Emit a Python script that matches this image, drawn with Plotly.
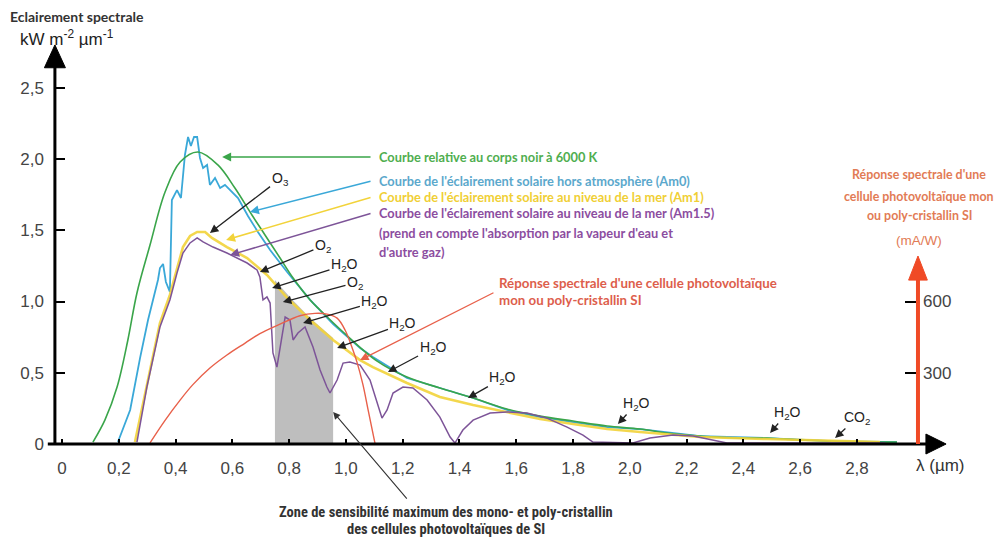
import plotly.graph_objects as go

# ---------------- data ----------------
# Black body 6000 K (kW m-2 um-1)
bb_x = [0.109, 0.151, 0.194, 0.232, 0.264, 0.310, 0.363, 0.416, 0.479, 0.549, 0.609, 0.669, 0.715,
        0.768, 0.814, 0.874, 0.909, 0.990, 1.110, 1.215, 1.331, 1.448, 1.567, 1.684, 1.800, 1.920,
        2.036, 2.131, 2.247, 2.364, 2.483, 2.600, 2.716, 2.835, 2.941]
bb_y = [0.014, 0.168, 0.400, 0.730, 1.060, 1.396, 1.768, 1.979, 2.049, 1.958, 1.796, 1.607, 1.467,
        1.305, 1.165, 1.011, 0.940, 0.786, 0.582, 0.470, 0.393, 0.323, 0.246, 0.196, 0.161, 0.126,
        0.105, 0.077, 0.056, 0.042, 0.042, 0.028, 0.021, 0.014, 0.014]

# AM0 (outside atmosphere)
am0_x = [0.197, 0.240, 0.275, 0.303, 0.324, 0.338, 0.345, 0.356, 0.366, 0.380, 0.387, 0.405, 0.419,
         0.433, 0.444, 0.454, 0.465, 0.476, 0.486, 0.497, 0.511, 0.521, 0.539, 0.557, 0.574, 0.599,
         0.620, 0.655, 0.690, 0.733, 0.793, 0.874, 0.955, 1.050, 1.095, 1.215, 1.331, 1.448, 1.567,
         1.684, 1.800, 1.920, 2.036, 2.247, 2.483, 2.716, 2.941]
am0_y = [0.014, 0.239, 0.604, 0.870, 1.039, 1.151, 1.235, 1.263, 1.137, 1.067, 1.712, 1.782, 1.726,
         2.028, 2.154, 2.091, 2.154, 2.154, 2.007, 1.937, 1.958, 1.818, 1.867, 1.796, 1.818, 1.768,
         1.726, 1.600, 1.488, 1.361, 1.207, 1.011, 0.842, 0.674, 0.611, 0.463, 0.393, 0.323, 0.239,
         0.189, 0.154, 0.119, 0.105, 0.056, 0.042, 0.021, 0.014]

# AM1 (sea level)
am1_x = [0.257, 0.299, 0.345, 0.380, 0.405, 0.426, 0.451, 0.476, 0.504, 0.528, 0.581, 0.652, 0.722,
         0.793, 0.874, 0.955, 1.050, 1.095, 1.215, 1.331, 1.448, 1.567, 1.684, 1.800, 1.920, 2.036,
         2.247, 2.483, 2.716, 2.881]
am1_y = [0.014, 0.414, 0.849, 1.046, 1.235, 1.382, 1.460, 1.488, 1.488, 1.446, 1.382, 1.305, 1.186,
         1.025, 0.870, 0.730, 0.589, 0.540, 0.428, 0.330, 0.274, 0.225, 0.175, 0.140, 0.105, 0.084,
         0.049, 0.035, 0.021, 0.014]

# AM1.5 (sea level, with absorption)
am15_x = [0.264, 0.299, 0.345, 0.380, 0.405, 0.426, 0.451, 0.476, 0.497, 0.532, 0.581, 0.652, 0.687,
          0.697, 0.708, 0.722, 0.733, 0.743, 0.757, 0.768, 0.786, 0.803, 0.814, 0.831, 0.856, 0.884,
          0.909, 0.933, 0.944, 0.969, 0.990, 1.014, 1.050, 1.085, 1.110, 1.127, 1.145, 1.166, 1.201,
          1.236, 1.286, 1.331, 1.367, 1.384, 1.412, 1.448, 1.508, 1.567, 1.638, 1.708, 1.779, 1.835,
          1.870, 2.011, 2.071, 2.152, 2.223, 2.293, 2.342, 2.900]
am15_y = [0.014, 0.400, 0.821, 1.011, 1.200, 1.340, 1.411, 1.446, 1.418, 1.382, 1.340, 1.270, 1.221,
          1.172, 1.011, 1.032, 0.989, 0.639, 0.540, 0.681, 0.891, 0.870, 0.730, 0.779, 0.821, 0.681,
          0.519, 0.400, 0.358, 0.449, 0.568, 0.575, 0.554, 0.449, 0.288, 0.182, 0.239, 0.358, 0.400,
          0.393, 0.309, 0.189, 0.049, 0.007, 0.098, 0.168, 0.218, 0.225, 0.218, 0.182, 0.119, 0.063,
          0.014, 0.007, 0.042, 0.063, 0.056, 0.028, 0.007, 0.007]

# Spectral response of a mono/poly-crystalline Si cell (mA/W)
pv_x = [0.310, 0.363, 0.416, 0.461, 0.521, 0.581, 0.645, 0.697, 0.768, 0.838, 0.891, 0.933, 0.969,
        0.997, 1.025, 1.039, 1.060, 1.078, 1.103]
pv_y = [5, 100, 185, 250, 320, 375, 425, 465, 505, 540, 550, 547, 530, 480, 395, 345, 250, 145, 0]

# Zone of maximum sensitivity (grey band)
zone_x = [0.750, 0.750, 0.803, 0.874, 0.955, 0.955]
zone_y = [0.0, 1.150, 1.030, 0.884, 0.744, 0.0]

x_ticks = [0, 0.2, 0.4, 0.6, 0.8, 1.0, 1.2, 1.4, 1.6, 1.8, 2.0, 2.2, 2.4, 2.6, 2.8]
x_ticktext = ["0", "0,2", "0,4", "0,6", "0,8", "1,0", "1,2", "1,4", "1,6", "1,8", "2,0", "2,2",
              "2,4", "2,6", "2,8"]
y_ticks = [0, 0.5, 1.0, 1.5, 2.0, 2.5]
y_ticktext = ["0", "0,5", "1,0", "1,5", "2,0", "2,5"]
y2_ticks = [300, 600]
y2_ticktext = ["300", "600"]

# ---------------- styling ----------------
GREEN = "#3aa54a"
BLUE = "#3aa8d8"
YELLOW = "#f2d33a"
PURPLE = "#7d5498"
RED = "#e8604a"
RED_AXIS = "#f04a26"
TXT_GREEN = "#4fae4f"
TXT_BLUE = "#5ba8cc"
TXT_YELLOW = "#f0cf35"
TXT_PURPLE = "#8c4d9f"
TXT_RED = "#dd5e4c"
TXT_ORANGE = "#e27b55"
LEG_FONT = "Lato, 'Open Sans', sans-serif"
ARIAL = "Liberation Sans, Arial, sans-serif"
TICK_FONT = dict(family=ARIAL, size=17, color="#444")

X0, X1 = -0.0775, 3.163
Y0, Y1 = -0.533, 2.975
K = 600.0          # mA/W per kW m-2 um-1 on the figure
YAX = -0.025       # position of the vertical axis line

fig = go.Figure()

fig.add_trace(go.Scatter(x=zone_x, y=zone_y, fill="toself", fillcolor="#bebebe",
                         line=dict(width=0), mode="lines", hoverinfo="skip", showlegend=False))
fig.add_trace(go.Scatter(x=am0_x, y=am0_y, mode="lines", line=dict(color=BLUE, width=1.8),
                         showlegend=False))
fig.add_trace(go.Scatter(x=bb_x, y=bb_y, mode="lines", line=dict(color=GREEN, width=1.6, shape="spline"),
                         showlegend=False))
fig.add_trace(go.Scatter(x=am1_x, y=am1_y, mode="lines",
                         line=dict(color="rgba(242,211,58,0.9)", width=2.6), showlegend=False))
fig.add_trace(go.Scatter(x=am15_x, y=am15_y, mode="lines", line=dict(color=PURPLE, width=1.5),
                         showlegend=False))
fig.add_trace(go.Scatter(x=pv_x, y=pv_y, mode="lines", yaxis="y2",
                         line=dict(color=RED, width=1.4, shape="spline"), showlegend=False))

# ---------------- axes drawn as arrows ----------------
shapes = [
    dict(type="line", xref="x", yref="y", x0=-0.05, x1=3.06, y0=0, y1=0,
         line=dict(color="black", width=3)),
    dict(type="path", xref="x", yref="y", path="M 3.043,0.07 L 3.114,0 L 3.043,-0.07 Z",
         fillcolor="black", line=dict(color="black", width=1)),
    dict(type="line", xref="x", yref="y", x0=YAX, x1=YAX, y0=0, y1=2.66,
         line=dict(color="black", width=3)),
    dict(type="path", xref="x", yref="y",
         path="M %.3f,2.64 L %.3f,2.80 L %.3f,2.64 Z" % (YAX - 0.037, YAX, YAX + 0.037),
         fillcolor="black", line=dict(color="black", width=1)),
    dict(type="line", xref="x", yref="y", x0=3.015, x1=3.015, y0=0, y1=1.17,
         line=dict(color=RED_AXIS, width=4)),
    dict(type="path", xref="x", yref="y", path="M 2.982,1.15 L 3.015,1.319 L 3.048,1.15 Z",
         fillcolor=RED_AXIS, line=dict(color=RED_AXIS, width=1)),
]

ann = []

def txt(x, y, text, color, size=12.8, bold=True, family=LEG_FONT, xanchor="left", ref="x"):
    ann.append(dict(x=x, y=y, xref=ref, yref=("y" if ref == "x" else "paper"),
                    text=("<b>%s</b>" % text) if bold else text,
                    showarrow=False, xanchor=xanchor, yanchor="middle",
                    font=dict(family=family, size=size, color=color)))

def arrow(x, y, ax, ay, color, width=1.3, size=1.3, text=""):
    ann.append(dict(x=x, y=y, ax=ax, ay=ay, xref="x", yref="y", axref="x", ayref="y",
                    text=text, showarrow=True, arrowhead=2, arrowsize=size, arrowwidth=width,
                    arrowcolor=color, font=dict(family=ARIAL, size=14, color="#222")))

# legend-like labels with coloured arrows
arrow(0.564, 2.014, 1.092, 2.014, GREEN, 1.5, 1.2)
arrow(0.662, 1.628, 1.092, 1.846, BLUE, 1.5, 1.2)
arrow(0.578, 1.432, 1.092, 1.733, YELLOW, 1.5, 1.2)
arrow(0.592, 1.326, 1.092, 1.621, PURPLE, 1.5, 1.2)
txt(1.110, 2.014, "Courbe relative au corps noir à 6000 K", TXT_GREEN)
txt(1.110, 1.846, "Courbe de l'éclairement solaire hors atmosphère (Am0)", TXT_BLUE)
txt(1.110, 1.733, "Courbe de l'éclairement solaire au niveau de la mer (Am1)", TXT_YELLOW)
txt(1.110, 1.621, "Courbe de l'éclairement solaire au niveau de la mer (Am1.5)", TXT_PURPLE)
txt(1.110, 1.481, "(prend en compte l'absorption par la vapeur d'eau et", TXT_PURPLE)
txt(1.110, 1.347, "d'autre gaz)", TXT_PURPLE)

arrow(1.050, 0.589, 1.525, 1.067, RED, 1.3, 1.3)
txt(1.532, 1.130, "Réponse spectrale d'une cellule photovoltaïque", TXT_RED, size=13.3)
txt(1.532, 1.011, "mon ou poly-cristallin SI", TXT_RED, size=13.3)

txt(3.020, 1.888, "Réponse spectrale d'une", TXT_ORANGE, size=12.4, xanchor="center")
txt(3.020, 1.740, "cellule photovoltaïque mon", TXT_ORANGE, size=12.4, xanchor="center")
txt(3.020, 1.600, "ou poly-cristallin SI", TXT_ORANGE, size=12.4, xanchor="center")
txt(3.020, 1.425, "(mA/W)", TXT_ORANGE, size=13.5, xanchor="center", bold=False, family=ARIAL)

# absorption labels
BK = "#222"
arrow(0.521, 1.481, 0.768, 1.860, BK, text="O<sub>3</sub>")
arrow(0.697, 1.207, 0.919, 1.389, BK, text="O<sub>2</sub>")
arrow(0.740, 1.095, 0.995, 1.256, BK, text="H<sub>2</sub>O")
arrow(0.778, 0.996, 1.032, 1.130, BK, text="O<sub>2</sub>")
arrow(0.849, 0.849, 1.102, 0.996, BK, text="H<sub>2</sub>O")
arrow(0.969, 0.674, 1.201, 0.842, BK, text="H<sub>2</sub>O")
arrow(1.148, 0.505, 1.307, 0.674, BK, text="H<sub>2</sub>O")
arrow(1.430, 0.323, 1.553, 0.463, BK, text="H<sub>2</sub>O")
arrow(1.958, 0.140, 2.022, 0.281, BK, text="H<sub>2</sub>O")
arrow(2.494, 0.077, 2.554, 0.218, BK, text="H<sub>2</sub>O")
arrow(2.723, 0.042, 2.800, 0.182, BK, text="CO<sub>2</sub>")

# zone label
arrow(0.955, 0.225, 1.219, -0.393, "#333", 1.1, 1.3)
ZFONT = "'Liberation Sans Narrow', 'Roboto Condensed', Roboto, sans-serif"
txt(0.4413, 0.016, "Zone de sensibilité maximum des mono- et poly-cristallin", "#333", size=14.5,
    family=ZFONT, xanchor="center", ref="paper")
txt(0.4413, -0.018, "des cellules photovoltaïques de SI", "#333", size=14.5, family=ZFONT,
    xanchor="center", ref="paper")

# axis titles
txt(-0.0348, 1.006, "Eclairement spectrale", "#333", size=14, ref="paper")
txt(-0.0239, 0.964, "kW m<sup>-2</sup> µm<sup>-1</sup>", "#222", size=17, bold=False,
    family=ARIAL, ref="paper")
txt(3.093, -0.154, "λ (µm)", "#333", size=17, bold=False, family=ARIAL, xanchor="center")

# The page body adds an 8 px offset: the figure is sized to fit the 1003x539 window.
fig.update_layout(
    width=995, height=531,
    margin=dict(l=32, r=43, t=12, b=19),
    paper_bgcolor="white", plot_bgcolor="white",
    showlegend=False,
    shapes=shapes, annotations=ann,
    xaxis=dict(range=[X0, X1], anchor="free", position=(0 - Y0) / (Y1 - Y0),
               showgrid=False, zeroline=False, showline=False,
               tickmode="array", tickvals=x_ticks, ticktext=x_ticktext,
               ticks="inside", ticklen=5, tickwidth=1.5, tickcolor="black",
               ticklabelstandoff=12, tickfont=TICK_FONT),
    yaxis=dict(range=[Y0, Y1], anchor="free", position=(YAX - X0) / (X1 - X0),
               showgrid=False, zeroline=False, showline=False,
               tickmode="array", tickvals=y_ticks, ticktext=y_ticktext,
               ticks="inside", ticklen=9, tickwidth=1.5, tickcolor="black",
               ticklabelstandoff=11, tickfont=TICK_FONT),
    yaxis2=dict(range=[Y0 * K, Y1 * K], overlaying="y", side="right", anchor="free",
                position=(3.015 - X0) / (X1 - X0),
                showgrid=False, zeroline=False, showline=False,
                tickmode="array", tickvals=y2_ticks, ticktext=y2_ticktext,
                ticks="inside", ticklen=13, tickwidth=1.5, tickcolor="black",
                ticklabelstandoff=4, tickfont=TICK_FONT),
)

fig.write_html("out.html")
